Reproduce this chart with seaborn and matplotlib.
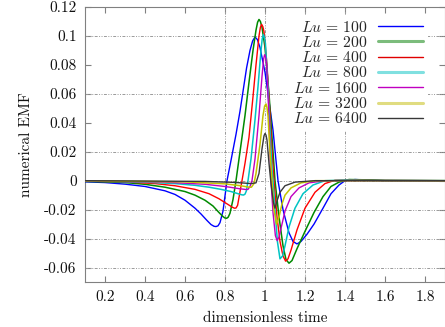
import matplotlib
matplotlib.use("Agg")
import matplotlib.pyplot as plt
import seaborn as sns
import pandas as pd
from matplotlib.lines import Line2D
from matplotlib.ticker import FixedLocator, FixedFormatter

# ---------------- data ----------------
lu_labels = ["100", "200", "400", "800", "1600", "3200", "6400"]

t_100 = [0.10, 0.20, 0.30, 0.40, 0.50, 0.55, 0.60, 0.65, 0.68, 0.71, 0.73, 0.745, 0.755, 0.765, 0.775,
         0.79, 0.81, 0.83, 0.855, 0.875, 0.908, 0.925, 0.938, 0.95, 0.962, 0.975, 1.00, 1.02, 1.04,
         1.065, 1.09, 1.12, 1.14, 1.16, 1.18, 1.21, 1.245, 1.29, 1.33, 1.37, 1.40, 1.45, 1.50, 1.60, 1.90]
v_100 = [-0.0008, -0.0013, -0.0024, -0.0040, -0.0070, -0.0095, -0.0135, -0.0190, -0.0230, -0.0275,
         -0.0303, -0.0315, -0.0317, -0.0312, -0.0290, -0.0210, 0.0000, 0.0140, 0.0320, 0.0480, 0.0780,
         0.0900, 0.0965, 0.0993, 0.0975, 0.0920, 0.0750, 0.0550, 0.0350, 0.0000, -0.0200, -0.0360,
         -0.0420, -0.0437, -0.0420, -0.0370, -0.0300, -0.0190, -0.0090, -0.0030, 0.0000, 0.0008,
         0.0005, 0.0001, 0.0000]

t_200 = [0.10, 0.20, 0.30, 0.40, 0.50, 0.60, 0.65, 0.70, 0.74, 0.77, 0.79, 0.80, 0.808, 0.816, 0.825,
         0.84, 0.855, 0.875, 0.90, 0.92, 0.94, 0.955, 0.963, 0.97, 0.977, 0.985, 1.00, 1.02, 1.035,
         1.05, 1.07, 1.09, 1.105, 1.12, 1.135, 1.16, 1.20, 1.245, 1.29, 1.33, 1.37, 1.42, 1.50, 1.60, 1.90]
v_200 = [-0.0005, -0.0008, -0.0013, -0.0025, -0.0045, -0.0075, -0.0100, -0.0135, -0.0175, -0.0220,
         -0.0248, -0.0258, -0.0260, -0.0252, -0.0225, -0.0130, 0.0000, 0.0200, 0.0450, 0.0680, 0.0900,
         0.1040, 0.1095, 0.1114, 0.1100, 0.1060, 0.0920, 0.0600, 0.0300, 0.0000, -0.0250, -0.0450,
         -0.0545, -0.0570, -0.0552, -0.0470, -0.0350, -0.0220, -0.0110, -0.0040, -0.0010, 0.0008,
         0.0006, 0.0002, 0.0000]

t_400 = [0.10, 0.30, 0.45, 0.55, 0.65, 0.72, 0.77, 0.81, 0.835, 0.847, 0.855, 0.863, 0.872, 0.885,
         0.90, 0.92, 0.94, 0.955, 0.97, 0.977, 0.983, 0.989, 0.995, 1.01, 1.025, 1.035, 1.045, 1.06,
         1.075, 1.09, 1.103, 1.115, 1.13, 1.16, 1.20, 1.25, 1.30, 1.35, 1.42, 1.55, 1.90]
v_400 = [-0.0003, -0.0008, -0.0020, -0.0035, -0.0060, -0.0090, -0.0125, -0.0160, -0.0182, -0.0190,
         -0.0189, -0.0170, -0.0100, 0.0000, 0.0120, 0.0300, 0.0580, 0.0800, 0.1000, 0.1060, 0.1080,
         0.1065, 0.1030, 0.0800, 0.0450, 0.0200, 0.0000, -0.0250, -0.0420, -0.0520, -0.0556, -0.0540,
         -0.0480, -0.0340, -0.0190, -0.0080, -0.0020, 0.0003, 0.0006, 0.0002, 0.0000]

t_800 = [0.10, 0.40, 0.55, 0.65, 0.72, 0.78, 0.83, 0.87, 0.885, 0.893, 0.90, 0.907, 0.915, 0.93,
         0.95, 0.965, 0.98, 0.986, 0.992, 0.997, 1.002, 1.015, 1.025, 1.035, 1.04, 1.05, 1.062,
         1.075, 1.088, 1.10, 1.12, 1.15, 1.19, 1.24, 1.30, 1.40, 1.55, 1.90]
v_800 = [-0.0002, -0.0010, -0.0020, -0.0032, -0.0045, -0.0060, -0.0075, -0.0092, -0.0098, -0.0099,
         -0.0093, -0.0070, 0.0000, 0.0150, 0.0420, 0.0650, 0.0900, 0.0980, 0.1010, 0.0990, 0.0950,
         0.0650, 0.0350, 0.0080, 0.0000, -0.0200, -0.0420, -0.0540, -0.0520, -0.0450, -0.0320,
         -0.0190, -0.0090, -0.0030, 0.0000, 0.0004, 0.0001, 0.0000]

t_1600 = [0.10, 0.50, 0.70, 0.80, 0.87, 0.905, 0.915, 0.925, 0.935, 0.95, 0.97, 0.985, 0.993, 0.998,
          1.003, 1.008, 1.018, 1.025, 1.03, 1.04, 1.052, 1.061, 1.07, 1.085, 1.10, 1.13, 1.17, 1.22,
          1.30, 1.90]
v_1600 = [-0.0001, -0.0010, -0.0025, -0.0040, -0.0055, -0.0061, -0.0060, -0.0040, 0.0000, 0.0150,
          0.0450, 0.0720, 0.0840, 0.0870, 0.0855, 0.0800, 0.0500, 0.0200, 0.0000, -0.0220, -0.0380,
          -0.0414, -0.0390, -0.0300, -0.0210, -0.0110, -0.0050, -0.0015, 0.0000, 0.0000]

t_3200 = [0.10, 0.60, 0.80, 0.88, 0.92, 0.932, 0.945, 0.955, 0.975, 0.99, 0.998, 1.005, 1.01, 1.015,
          1.025, 1.035, 1.045, 1.058, 1.07, 1.085, 1.10, 1.13, 1.18, 1.25, 1.90]
v_3200 = [-0.0001, -0.0008, -0.0022, -0.0035, -0.0045, -0.0045, -0.0020, 0.0050, 0.0250, 0.0450,
          0.0515, 0.0530, 0.0505, 0.0450, 0.0200, 0.0000, -0.0200, -0.0300, -0.0250, -0.0160,
          -0.0100, -0.0050, -0.0015, 0.0000, 0.0000]

t_6400 = [0.10, 0.70, 0.85, 0.93, 0.955, 0.97, 0.985, 0.995, 1.00, 1.005, 1.01, 1.02, 1.03, 1.042,
          1.05, 1.06, 1.075, 1.10, 1.15, 1.25, 1.90]
v_6400 = [0.0000, -0.0005, -0.0012, -0.0020, -0.0015, 0.0050, 0.0220, 0.0310, 0.0326, 0.0315,
          0.0280, 0.0120, -0.0020, -0.0150, -0.0190, -0.0140, -0.0080, -0.0035, -0.0010, 0.0000,
          0.0000]

series_t = [t_100, t_200, t_400, t_800, t_1600, t_3200, t_6400]
series_v = [v_100, v_200, v_400, v_800, v_1600, v_3200, v_6400]

x_ticks = [0.2, 0.4, 0.6, 0.8, 1.0, 1.2, 1.4, 1.6, 1.8]
x_tick_labels = ["0.2", "0.4", "0.6", "0.8", "1", "1.2", "1.4", "1.6", "1.8"]
y_ticks = [-0.06, -0.04, -0.02, 0.0, 0.02, 0.04, 0.06, 0.08, 0.10, 0.12]
y_tick_labels = ["-0.06", "-0.04", "-0.02", "0", "0.02", "0.04", "0.06", "0.08", "0.1", "0.12"]
x_grid = [0.8, 1.0, 1.2, 1.4]
y_grid = [-0.06, -0.04, -0.02, 0.0, 0.02, 0.06, 0.10]

# ---------------- style ----------------
line_colors = ["#0000ff", "#008a00", "#ff0000", "#00c4c4", "#c000c0", "#c4c400", "#383838"]
line_widths = [1.0, 1.1, 1.0, 1.1, 1.0, 1.1, 1.0]
legend_colors = ["#0000ff", "#7cbc7c", "#e00000", "#80e0e0", "#c000c0", "#e0dc80", "#383838"]
legend_widths = [1.0, 2.2, 1.0, 2.2, 1.0, 2.2, 1.0]

sns.set_style("ticks")
plt.rcParams["font.family"] = ["cmr10", "DejaVu Serif"]
plt.rcParams["mathtext.fontset"] = "cm"
plt.rcParams["axes.unicode_minus"] = False

fig = plt.figure(figsize=(4.45, 3.27), dpi=100)
ax = fig.add_axes([85 / 445, 45 / 327, 360 / 445, 275 / 327])

frames = []
for lab, t, v in zip(lu_labels, series_t, series_v):
    frames.append(pd.DataFrame({"t": t, "v": v, "Lu": lab}))
df = pd.concat(frames, ignore_index=True)

for lab, col, lw in zip(lu_labels, line_colors, line_widths):
    sub = df[df["Lu"] == lab]
    sns.lineplot(data=sub, x="t", y="v", color=col, lw=lw, ax=ax,
                 estimator=None, sort=False, legend=False, zorder=3)

grid_color = "#9a9a9a"
grid_style = (0, (3, 1.5, 1, 1.5, 1, 1.5))
for gx in x_grid:
    ax.axvline(gx, color=grid_color, lw=0.7, ls=grid_style, zorder=1)
for gy in y_grid:
    ax.axhline(gy, color=grid_color, lw=0.7, ls=grid_style, zorder=1)

ax.set_xlim(0.1, 1.9)
ax.set_ylim(-0.07, 0.12)
ax.xaxis.set_major_locator(FixedLocator(x_ticks))
ax.xaxis.set_major_formatter(FixedFormatter(x_tick_labels))
ax.yaxis.set_major_locator(FixedLocator(y_ticks))
ax.yaxis.set_major_formatter(FixedFormatter(y_tick_labels))

for sp in ax.spines.values():
    sp.set_visible(True)
    sp.set_color("#808080")
    sp.set_linewidth(0.8)
ax.tick_params(which="both", direction="in", top=True, right=True, length=4,
               width=0.8, color="#808080", labelsize=11, pad=6, labelcolor="#111111")

ax.set_xlabel("dimensionless time", fontsize=11, labelpad=5, color="#111111")
ax.set_ylabel("numerical EMF", fontsize=11, labelpad=8, color="#111111")

handles = [Line2D([0], [0], color=c, lw=w) for c, w in zip(legend_colors, legend_widths)]
labels = [r"$Lu\,=\,%s$" % s for s in lu_labels]
leg = ax.legend(handles, labels, loc="upper right", bbox_to_anchor=(0.975, 1.0),
                markerfirst=False, frameon=True, framealpha=1.0, facecolor="white",
                edgecolor="none", fontsize=11.3, handlelength=2.9, handletextpad=0.65,
                labelspacing=0.02, borderpad=0.3, fancybox=False)
leg.set_zorder(5)

fig.savefig("out.png", dpi=100)
